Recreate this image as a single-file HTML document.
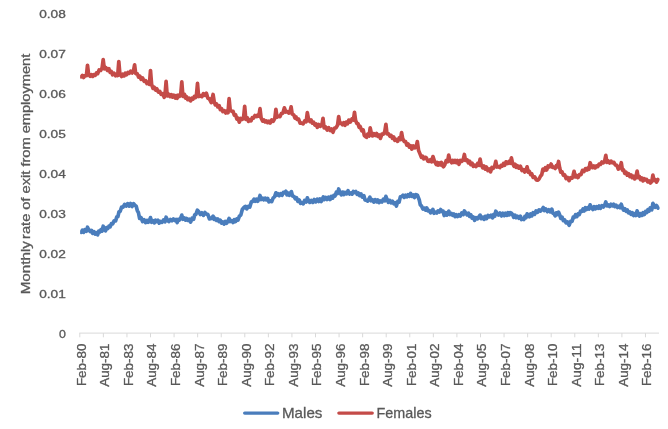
<!DOCTYPE html>
<html><head><meta charset="utf-8"><title>Chart</title>
<style>
html,body{margin:0;padding:0;background:#fff;}
svg{display:block;will-change:transform;}
text{font-family:"Liberation Sans",sans-serif;fill:#595959;stroke:#595959;stroke-width:0.3px;}
</style></head>
<body>
<svg width="668" height="429" viewBox="0 0 668 429">
<rect x="0" y="0" width="668" height="429" fill="#ffffff"/>
<g stroke="#d9d9d9" stroke-width="1" fill="none">
<line x1="79.30" y1="333.10" x2="659.00" y2="333.10"/>
<line x1="79.80" y1="333.10" x2="79.80" y2="337.30"/>
<line x1="103.37" y1="333.10" x2="103.37" y2="337.30"/>
<line x1="126.94" y1="333.10" x2="126.94" y2="337.30"/>
<line x1="150.51" y1="333.10" x2="150.51" y2="337.30"/>
<line x1="174.08" y1="333.10" x2="174.08" y2="337.30"/>
<line x1="197.65" y1="333.10" x2="197.65" y2="337.30"/>
<line x1="221.22" y1="333.10" x2="221.22" y2="337.30"/>
<line x1="244.79" y1="333.10" x2="244.79" y2="337.30"/>
<line x1="268.36" y1="333.10" x2="268.36" y2="337.30"/>
<line x1="291.93" y1="333.10" x2="291.93" y2="337.30"/>
<line x1="315.50" y1="333.10" x2="315.50" y2="337.30"/>
<line x1="339.07" y1="333.10" x2="339.07" y2="337.30"/>
<line x1="362.64" y1="333.10" x2="362.64" y2="337.30"/>
<line x1="386.21" y1="333.10" x2="386.21" y2="337.30"/>
<line x1="409.78" y1="333.10" x2="409.78" y2="337.30"/>
<line x1="433.35" y1="333.10" x2="433.35" y2="337.30"/>
<line x1="456.92" y1="333.10" x2="456.92" y2="337.30"/>
<line x1="480.49" y1="333.10" x2="480.49" y2="337.30"/>
<line x1="504.06" y1="333.10" x2="504.06" y2="337.30"/>
<line x1="527.63" y1="333.10" x2="527.63" y2="337.30"/>
<line x1="551.20" y1="333.10" x2="551.20" y2="337.30"/>
<line x1="574.77" y1="333.10" x2="574.77" y2="337.30"/>
<line x1="598.34" y1="333.10" x2="598.34" y2="337.30"/>
<line x1="621.91" y1="333.10" x2="621.91" y2="337.30"/>
<line x1="645.48" y1="333.10" x2="645.48" y2="337.30"/>
</g>
<g font-size="11.2" text-anchor="end">
<text x="65.8" y="337.70" textLength="6.9" lengthAdjust="spacingAndGlyphs">0</text>
<text x="65.8" y="297.77" textLength="26.6" lengthAdjust="spacingAndGlyphs">0.01</text>
<text x="65.8" y="257.84" textLength="26.6" lengthAdjust="spacingAndGlyphs">0.02</text>
<text x="65.8" y="217.91" textLength="26.6" lengthAdjust="spacingAndGlyphs">0.03</text>
<text x="65.8" y="177.98" textLength="26.6" lengthAdjust="spacingAndGlyphs">0.04</text>
<text x="65.8" y="138.05" textLength="26.6" lengthAdjust="spacingAndGlyphs">0.05</text>
<text x="65.8" y="98.12" textLength="26.6" lengthAdjust="spacingAndGlyphs">0.06</text>
<text x="65.8" y="58.19" textLength="26.6" lengthAdjust="spacingAndGlyphs">0.07</text>
<text x="65.8" y="18.26" textLength="26.6" lengthAdjust="spacingAndGlyphs">0.08</text>
</g>
<g font-size="12" text-anchor="end">
<text transform="translate(85.70,343.6) rotate(-90)" x="0" y="0" textLength="42.5" lengthAdjust="spacingAndGlyphs">Feb-80</text>
<text transform="translate(109.27,343.6) rotate(-90)" x="0" y="0" textLength="43.2" lengthAdjust="spacingAndGlyphs">Aug-81</text>
<text transform="translate(132.84,343.6) rotate(-90)" x="0" y="0" textLength="42.5" lengthAdjust="spacingAndGlyphs">Feb-83</text>
<text transform="translate(156.41,343.6) rotate(-90)" x="0" y="0" textLength="43.2" lengthAdjust="spacingAndGlyphs">Aug-84</text>
<text transform="translate(179.98,343.6) rotate(-90)" x="0" y="0" textLength="42.5" lengthAdjust="spacingAndGlyphs">Feb-86</text>
<text transform="translate(203.55,343.6) rotate(-90)" x="0" y="0" textLength="43.2" lengthAdjust="spacingAndGlyphs">Aug-87</text>
<text transform="translate(227.12,343.6) rotate(-90)" x="0" y="0" textLength="42.5" lengthAdjust="spacingAndGlyphs">Feb-89</text>
<text transform="translate(250.69,343.6) rotate(-90)" x="0" y="0" textLength="43.2" lengthAdjust="spacingAndGlyphs">Aug-90</text>
<text transform="translate(274.26,343.6) rotate(-90)" x="0" y="0" textLength="42.5" lengthAdjust="spacingAndGlyphs">Feb-92</text>
<text transform="translate(297.83,343.6) rotate(-90)" x="0" y="0" textLength="43.2" lengthAdjust="spacingAndGlyphs">Aug-93</text>
<text transform="translate(321.40,343.6) rotate(-90)" x="0" y="0" textLength="42.5" lengthAdjust="spacingAndGlyphs">Feb-95</text>
<text transform="translate(344.97,343.6) rotate(-90)" x="0" y="0" textLength="43.2" lengthAdjust="spacingAndGlyphs">Aug-96</text>
<text transform="translate(368.54,343.6) rotate(-90)" x="0" y="0" textLength="42.5" lengthAdjust="spacingAndGlyphs">Feb-98</text>
<text transform="translate(392.11,343.6) rotate(-90)" x="0" y="0" textLength="43.2" lengthAdjust="spacingAndGlyphs">Aug-99</text>
<text transform="translate(415.68,343.6) rotate(-90)" x="0" y="0" textLength="42.5" lengthAdjust="spacingAndGlyphs">Feb-01</text>
<text transform="translate(439.25,343.6) rotate(-90)" x="0" y="0" textLength="43.2" lengthAdjust="spacingAndGlyphs">Aug-02</text>
<text transform="translate(462.82,343.6) rotate(-90)" x="0" y="0" textLength="42.5" lengthAdjust="spacingAndGlyphs">Feb-04</text>
<text transform="translate(486.39,343.6) rotate(-90)" x="0" y="0" textLength="43.2" lengthAdjust="spacingAndGlyphs">Aug-05</text>
<text transform="translate(509.96,343.6) rotate(-90)" x="0" y="0" textLength="42.5" lengthAdjust="spacingAndGlyphs">Feb-07</text>
<text transform="translate(533.53,343.6) rotate(-90)" x="0" y="0" textLength="43.2" lengthAdjust="spacingAndGlyphs">Aug-08</text>
<text transform="translate(557.10,343.6) rotate(-90)" x="0" y="0" textLength="42.5" lengthAdjust="spacingAndGlyphs">Feb-10</text>
<text transform="translate(580.67,343.6) rotate(-90)" x="0" y="0" textLength="43.2" lengthAdjust="spacingAndGlyphs">Aug-11</text>
<text transform="translate(604.24,343.6) rotate(-90)" x="0" y="0" textLength="42.5" lengthAdjust="spacingAndGlyphs">Feb-13</text>
<text transform="translate(627.81,343.6) rotate(-90)" x="0" y="0" textLength="43.2" lengthAdjust="spacingAndGlyphs">Aug-14</text>
<text transform="translate(651.38,343.6) rotate(-90)" x="0" y="0" textLength="42.5" lengthAdjust="spacingAndGlyphs">Feb-16</text>
</g>
<text transform="translate(29.5,294.3) rotate(-90)" font-size="12.5" textLength="53.2" lengthAdjust="spacingAndGlyphs">Monthly</text>
<text transform="translate(29.5,238.9) rotate(-90)" font-size="12.5" textLength="185.2" lengthAdjust="spacingAndGlyphs">rate of exit from employment</text>
<defs><clipPath id="cp"><rect x="80.1" y="0" width="579.6" height="333"/></clipPath></defs>
<g clip-path="url(#cp)">
<polyline fill="none" stroke="#4a7dbc" stroke-width="3.7" stroke-linejoin="round" stroke-linecap="round" points="81.20,232.41 82.43,230.07 83.67,232.32 84.90,229.68 86.40,231.24 87.50,227.20 88.60,229.52 90.20,231.50 91.43,230.37 92.67,233.32 93.90,231.62 95.17,234.03 96.43,232.81 97.70,234.82 98.80,231.10 99.90,231.91 101.00,229.66 102.10,231.01 103.20,226.20 104.30,228.50 105.60,230.77 106.70,227.56 107.80,228.58 108.90,226.24 110.13,226.74 111.37,223.73 112.60,224.00 114.10,220.85 115.60,220.88 116.75,216.93 117.90,216.70 119.00,211.73 120.10,211.47 121.60,207.04 123.10,207.05 124.60,204.32 126.10,206.02 127.60,203.63 129.10,206.18 130.60,203.52 132.10,206.52 133.60,203.63 135.10,205.40 136.20,206.26 137.30,210.58 138.45,212.74 139.60,218.46 141.10,217.73 142.60,221.53 144.10,219.74 145.60,222.62 147.10,220.37 148.25,222.25 149.40,220.93 150.50,217.60 151.60,222.26 153.00,220.67 154.27,222.87 155.53,220.20 156.80,221.61 158.03,220.25 159.27,223.17 160.50,221.53 162.00,222.37 163.50,219.98 165.00,221.79 166.10,217.20 167.20,219.62 168.80,221.55 170.35,219.55 171.90,220.73 173.40,218.90 174.90,220.49 176.05,219.51 177.20,222.50 178.30,219.29 179.40,220.00 180.70,218.13 181.80,215.10 182.90,219.33 184.40,218.03 185.50,220.08 186.60,218.48 187.70,220.42 189.15,219.28 190.60,222.13 192.10,218.26 193.60,219.30 194.75,214.79 195.90,214.47 197.40,210.20 198.80,211.82 200.40,214.53 201.90,212.79 203.40,215.43 204.90,212.51 206.40,214.02 207.90,214.59 209.40,218.97 211.30,218.56 213.10,216.20 214.20,219.42 215.30,218.49 216.57,220.42 217.83,219.08 219.10,221.55 220.33,220.30 221.57,223.12 222.80,221.89 224.07,224.08 225.33,221.40 226.60,223.31 228.00,221.06 229.10,218.40 230.20,221.56 231.80,220.62 233.07,222.54 234.33,219.63 235.60,221.55 236.83,218.90 238.07,219.94 239.30,216.30 240.80,215.11 242.30,209.49 244.20,207.06 245.50,206.37 246.80,208.89 248.30,206.41 249.80,207.08 251.30,201.98 252.80,201.24 254.03,199.19 255.27,201.26 256.50,199.09 257.70,201.23 258.90,199.18 260.00,195.50 261.10,199.55 262.70,198.17 263.93,199.87 265.17,198.10 266.40,199.80 267.67,198.37 268.93,201.84 270.20,200.82 271.70,201.58 273.20,197.88 274.55,196.87 275.90,192.83 277.00,195.11 278.10,193.80 279.20,195.69 280.65,193.60 282.10,195.31 283.45,192.29 284.80,192.84 285.90,191.30 287.00,194.87 288.10,193.02 289.20,195.30 290.30,193.22 291.40,191.60 292.50,196.04 294.10,196.52 295.37,198.87 296.63,197.82 297.90,201.41 299.23,200.01 300.57,203.34 301.90,202.74 303.25,203.84 304.60,200.46 306.20,201.93 307.30,197.90 308.40,200.19 309.80,202.41 311.30,200.35 312.80,202.41 314.30,199.53 315.80,201.91 317.30,199.22 318.80,201.49 319.95,199.02 321.10,201.53 322.20,199.46 323.30,196.90 324.40,199.46 325.60,197.35 327.10,199.52 328.60,197.08 330.10,199.54 331.33,196.49 332.57,198.15 333.80,195.44 335.05,196.02 336.30,192.26 337.60,193.50 338.70,189.00 339.80,192.19 341.30,194.84 342.53,192.05 343.77,194.63 345.00,192.44 346.50,193.89 348.00,190.78 349.50,194.05 351.00,192.88 352.17,194.15 353.33,191.42 354.50,192.58 355.85,191.52 357.20,194.44 358.43,193.06 359.67,195.61 360.90,193.85 362.40,197.19 363.90,195.81 365.05,199.91 366.20,200.24 367.70,201.09 368.80,199.16 369.90,197.20 371.00,200.77 372.40,199.81 373.80,202.07 375.20,199.62 376.60,201.90 377.87,199.94 379.13,202.61 380.40,200.92 381.90,201.96 383.40,199.20 384.80,200.91 385.90,196.40 387.00,199.33 388.30,202.25 389.67,200.34 391.03,202.82 392.40,201.20 393.73,203.73 395.07,202.78 396.40,206.02 397.75,201.47 399.10,202.12 400.35,196.89 401.60,196.57 402.95,195.26 404.30,197.41 405.57,195.29 406.83,196.76 408.10,194.72 409.35,196.25 410.60,193.45 411.95,196.35 413.30,195.08 414.45,197.49 415.60,194.69 417.30,195.01 419.20,199.72 420.30,204.80 421.40,205.81 422.90,209.07 424.40,208.09 425.55,210.05 426.70,207.82 428.05,210.92 429.40,210.64 430.60,212.77 431.80,211.63 432.90,209.40 434.00,213.32 435.40,212.16 436.73,213.03 438.07,210.84 439.40,211.95 440.65,209.54 441.90,211.45 443.05,211.08 444.20,215.50 445.55,212.63 446.90,215.10 447.70,213.23 448.80,211.20 449.90,214.52 451.40,213.40 452.63,215.26 453.87,213.97 455.10,216.62 456.37,214.70 457.63,216.47 458.90,214.77 460.35,216.01 461.80,212.83 463.30,214.50 464.40,210.90 465.50,212.62 467.10,214.87 468.33,213.12 469.57,216.28 470.80,214.68 472.07,218.20 473.33,216.97 474.60,220.36 476.10,217.64 477.60,218.85 479.00,216.64 480.10,215.10 481.20,218.67 482.80,217.29 484.03,219.35 485.27,216.31 486.50,218.61 488.00,215.43 489.50,216.87 491.00,215.33 492.50,217.83 493.60,214.74 494.70,216.31 495.80,211.20 496.90,212.94 498.50,215.02 500.00,213.00 501.50,215.97 503.00,213.27 504.27,215.71 505.53,213.28 506.80,215.41 508.00,212.67 509.20,214.93 510.30,212.57 511.40,213.12 512.50,214.50 513.70,217.29 514.93,215.17 516.17,217.71 517.40,216.22 518.90,218.20 520.40,216.20 521.55,219.54 522.70,218.81 523.80,219.57 524.90,216.42 526.00,217.84 527.10,213.90 528.20,214.96 529.40,216.76 530.63,213.87 531.87,215.82 533.10,212.70 534.60,214.31 536.10,210.85 537.60,212.31 539.10,209.83 540.60,211.03 542.20,209.25 543.30,207.50 544.40,210.52 545.90,208.97 547.40,211.71 548.90,209.83 550.35,211.88 551.80,209.10 552.95,213.35 554.10,213.74 555.20,215.78 556.30,212.83 557.50,214.57 558.60,212.10 559.70,214.87 560.80,218.32 562.07,217.10 563.33,220.54 564.60,219.89 566.10,222.91 567.60,221.91 569.10,225.24 570.60,221.33 572.10,221.33 573.20,217.19 574.30,217.57 575.53,214.78 576.77,216.63 578.00,213.96 579.27,214.67 580.53,211.23 581.80,211.48 583.00,208.99 584.20,210.97 585.40,207.74 586.60,209.57 587.80,207.57 589.00,209.03 590.10,204.90 591.20,207.10 592.90,209.50 594.17,206.63 595.43,208.83 596.70,206.69 597.93,208.21 599.17,206.05 600.40,208.39 601.90,205.59 603.40,206.97 604.70,205.03 605.80,201.90 606.90,205.87 608.30,204.87 609.67,206.63 611.03,204.26 612.40,205.84 613.63,204.25 614.87,206.64 616.10,205.16 617.60,207.55 619.10,206.14 620.20,207.80 621.30,204.20 622.40,207.73 623.60,210.18 624.83,208.70 626.07,211.25 627.30,209.92 628.57,212.87 629.83,211.92 631.10,214.42 632.33,212.81 633.57,215.50 634.80,213.63 636.00,215.53 637.10,210.90 638.20,213.60 639.30,216.04 640.57,213.60 641.83,215.41 643.10,212.60 644.33,214.54 645.57,211.53 646.80,212.60 647.93,209.54 649.07,210.99 650.20,207.95 651.80,209.75 652.90,203.40 654.00,205.27 655.00,207.24 656.50,205.57 658.00,208.06"/>
<polyline fill="none" stroke="#c44b48" stroke-width="3.7" stroke-linejoin="round" stroke-linecap="round" points="81.20,76.91 82.43,75.36 83.67,77.44 84.90,75.69 86.40,75.76 87.50,65.30 88.60,74.34 90.20,76.40 91.43,74.64 92.67,76.38 93.90,74.70 95.17,75.41 96.43,72.98 97.70,73.69 99.15,69.89 100.60,70.45 102.10,67.92 103.20,59.60 104.30,68.81 105.90,67.59 107.40,70.46 108.90,68.73 110.13,72.36 111.37,71.48 112.60,74.74 114.10,73.32 115.60,75.77 116.65,74.25 117.70,75.63 118.80,61.50 119.90,74.09 121.60,76.50 122.83,74.08 124.07,75.86 125.30,73.25 126.62,74.74 127.95,72.40 129.27,73.25 130.60,71.18 132.05,72.95 133.50,70.80 134.60,64.80 135.70,73.63 137.30,73.88 138.57,77.01 139.83,76.11 141.10,79.29 142.60,78.02 144.10,81.31 145.60,80.59 146.90,83.52 148.20,81.85 149.40,84.36 150.50,70.50 151.60,84.38 153.00,88.43 154.27,87.25 155.53,89.99 156.80,88.74 158.27,92.01 159.73,91.42 161.20,94.38 162.70,93.66 164.20,97.26 165.00,95.22 166.10,81.30 167.20,95.95 168.80,94.30 170.03,96.67 171.27,94.61 172.50,97.11 173.85,95.33 175.20,98.02 176.20,95.54 177.20,98.23 178.30,95.27 179.40,96.40 180.70,94.65 181.80,81.80 182.90,96.32 184.40,94.26 185.50,98.01 186.60,96.82 187.70,99.66 189.15,98.26 190.60,100.87 191.87,98.18 193.13,98.99 194.40,96.45 195.40,97.55 196.40,95.61 197.50,83.30 198.60,96.53 200.40,95.55 201.90,96.66 203.40,93.65 204.90,95.32 206.40,93.19 207.90,98.29 209.40,98.84 211.30,102.61 213.10,94.50 214.20,101.56 215.30,104.87 216.57,104.02 217.83,106.94 219.10,105.64 220.33,109.65 221.57,108.69 222.80,111.49 224.30,110.61 225.80,113.04 226.90,111.06 228.00,112.79 229.10,98.70 230.20,109.90 231.80,111.36 233.07,111.45 234.33,115.11 235.60,114.80 236.83,119.05 238.07,118.16 239.30,122.16 240.80,118.45 242.30,119.29 243.60,117.51 244.70,106.30 245.80,119.46 247.20,117.73 248.50,121.40 249.80,119.81 251.03,120.83 252.27,117.66 253.50,118.14 255.00,115.49 256.50,116.60 257.70,114.99 258.90,116.07 260.00,108.70 261.10,117.95 262.70,121.12 263.93,120.01 265.17,121.85 266.40,120.93 267.67,122.67 268.93,121.22 270.20,123.07 271.70,119.95 273.20,121.34 274.80,118.46 275.90,109.30 277.00,117.10 278.40,116.27 279.90,116.64 281.40,113.45 282.90,113.08 284.40,107.86 285.90,112.02 287.40,111.66 288.70,113.07 290.00,111.49 291.10,106.80 292.20,114.15 293.80,114.84 294.90,118.01 296.00,116.92 297.10,119.37 298.60,119.02 300.10,123.24 301.60,123.13 303.10,123.89 304.60,121.03 306.20,121.75 307.30,112.70 308.40,118.50 309.80,121.54 311.07,119.99 312.33,123.06 313.60,122.26 314.83,124.99 316.07,123.93 317.30,127.28 318.80,124.53 320.30,126.32 321.90,124.92 323.00,118.30 324.10,127.91 325.60,126.96 327.10,130.00 328.60,127.64 330.10,130.51 331.55,129.06 333.00,132.23 334.50,128.08 336.00,127.84 337.60,125.03 338.70,116.50 339.80,123.47 341.30,123.02 342.53,124.76 343.77,122.70 345.00,125.32 346.27,122.09 347.53,123.70 348.80,120.06 350.35,122.11 351.90,118.96 353.40,120.08 354.50,112.30 355.60,120.42 356.90,123.51 358.00,123.62 359.10,127.32 360.20,126.53 361.70,130.72 363.20,129.87 364.30,135.47 365.40,136.41 366.55,137.27 367.70,134.22 369.10,135.96 370.20,127.80 371.30,133.11 372.40,135.95 373.80,133.67 375.20,135.49 376.60,133.42 377.87,136.38 379.13,134.94 380.40,138.43 381.90,134.13 383.40,134.17 384.80,131.51 385.90,124.30 387.00,133.86 388.60,133.91 389.87,136.22 391.13,135.46 392.40,138.37 393.63,136.94 394.87,140.24 396.10,139.39 397.60,141.38 399.10,138.02 400.50,139.65 401.60,132.50 402.70,138.74 404.30,141.46 405.57,141.50 406.83,145.06 408.10,143.93 409.33,147.17 410.57,145.70 411.80,149.10 413.30,146.00 414.80,147.91 416.30,146.23 417.30,141.60 418.60,150.60 419.90,153.61 421.40,157.34 422.55,156.13 423.70,158.86 425.20,157.31 426.30,157.76 427.80,161.12 429.20,161.43 430.40,159.73 431.60,161.78 433.00,156.60 434.40,161.04 436.20,164.49 437.20,162.37 438.20,165.05 439.20,162.82 440.20,164.87 441.40,162.33 442.50,165.50 443.50,166.70 444.80,164.66 446.10,160.71 447.60,161.75 448.70,155.10 449.80,160.08 451.70,162.73 452.83,160.37 453.97,162.35 455.10,160.33 456.35,162.70 457.60,160.52 459.00,164.24 460.40,160.40 461.80,161.35 463.30,159.39 464.40,154.50 465.50,160.39 467.10,159.84 468.33,162.77 469.57,161.17 470.80,164.58 472.07,163.19 473.33,166.34 474.60,165.14 476.10,166.51 477.60,163.50 479.00,165.21 480.10,159.00 481.20,164.75 482.80,167.93 484.03,166.00 485.27,169.11 486.50,167.05 487.87,170.57 489.23,169.07 490.60,171.80 491.95,167.40 493.30,168.22 494.70,165.97 495.80,161.30 496.90,167.02 498.50,166.69 499.77,167.64 501.03,165.32 502.30,166.11 503.53,163.48 504.77,165.21 506.00,161.83 507.70,163.48 509.00,161.38 510.30,163.33 511.40,157.80 512.50,162.96 514.00,166.26 515.13,164.24 516.27,167.26 517.40,165.79 518.90,168.17 520.40,166.16 521.90,170.49 523.40,169.58 524.60,171.98 525.80,170.80 527.10,166.80 528.20,172.24 529.40,171.48 530.63,174.48 531.87,174.03 533.10,177.43 534.70,176.83 536.30,179.89 537.60,180.20 538.90,179.27 540.60,175.98 541.75,174.70 542.90,169.14 544.13,170.40 545.37,167.76 546.60,169.98 548.10,166.01 549.60,166.90 551.10,164.04 552.60,167.48 554.10,167.43 555.20,168.42 556.30,165.64 557.50,166.69 558.60,161.50 559.70,168.03 560.80,172.21 562.07,171.81 563.33,175.20 564.60,174.81 566.10,178.54 567.60,177.46 569.10,180.62 570.60,177.70 572.10,178.10 573.00,175.81 574.10,171.30 575.20,177.00 576.50,175.50 578.00,177.61 579.50,174.71 581.00,174.57 582.50,170.36 584.00,171.51 585.50,168.56 587.00,170.01 588.00,167.83 589.00,169.27 590.10,162.70 591.20,165.53 592.60,167.67 593.87,166.04 595.13,167.87 596.40,165.96 597.73,166.54 599.07,164.02 600.40,164.49 601.90,162.04 603.40,162.80 604.70,160.87 605.80,155.30 606.90,162.38 608.30,161.02 609.67,162.95 611.03,161.11 612.40,162.83 613.90,162.38 615.40,165.05 616.85,165.39 618.30,169.14 620.20,167.24 621.30,162.70 622.40,170.06 623.60,169.87 624.83,173.30 626.07,172.16 627.30,175.21 628.57,173.67 629.83,176.48 631.10,174.88 632.33,177.67 633.57,176.14 634.80,178.90 636.00,176.49 637.10,171.00 638.20,177.65 639.30,176.38 640.57,179.65 641.83,178.01 643.10,180.88 644.20,178.62 645.30,179.90 646.53,179.44 647.77,181.91 649.00,180.96 650.40,182.96 651.80,181.45 652.90,175.00 654.00,180.50 655.00,179.38 656.50,182.05 658.00,179.51"/>
</g>
<line x1="244.7" y1="413.1" x2="277.7" y2="413.1" stroke="#4a7dbc" stroke-width="3.4" stroke-linecap="round"/>
<text x="282" y="418.2" font-size="14.4" textLength="40.4" lengthAdjust="spacingAndGlyphs">Males</text>
<line x1="338.9" y1="413.1" x2="372.2" y2="413.1" stroke="#c44b48" stroke-width="3.4" stroke-linecap="round"/>
<text x="376.6" y="418.2" font-size="14.4" textLength="55" lengthAdjust="spacingAndGlyphs">Females</text>
</svg>
</body></html>
